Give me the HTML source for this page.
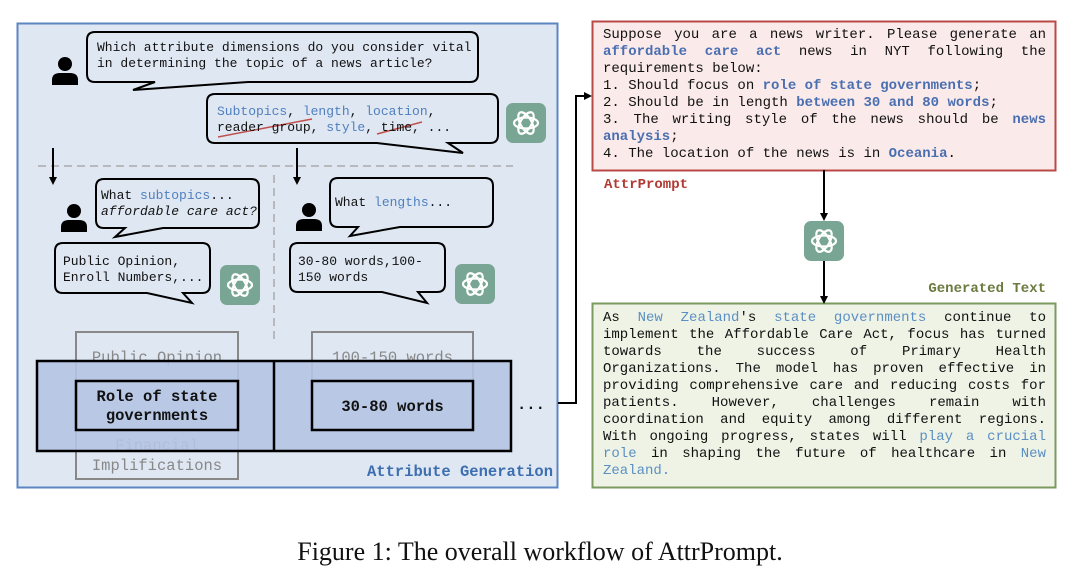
<!DOCTYPE html>
<html><head><meta charset="utf-8"><style>
body{margin:0;background:#fff;width:1080px;height:582px;position:relative;overflow:hidden}
.t{position:absolute;font-family:"Liberation Mono",monospace;white-space:pre;color:#111}
.s{font-size:13px;line-height:16px}
.b{color:#4f7fbf}
.g{color:#888}
.j{position:absolute;font-family:"Liberation Mono",monospace;font-size:14px;line-height:17px;color:#111;width:443px}
.j div{text-align:justify;text-align-last:justify;white-space:normal;height:17px}
.j div.n{text-align-last:left}
.hb{color:#4a6fb0;font-weight:bold}
.hg{color:#5b8fc4}
.m{font-size:15.5px}
</style></head><body>
<svg width="1080" height="582" style="position:absolute;left:0;top:0">
<defs>
<g id="gpt"><rect x="0" y="0" width="40" height="40" rx="7" fill="#79a594"/>
<g fill="none" stroke="#fff" stroke-width="2.2">
<ellipse cx="20" cy="20" rx="12" ry="5.5"/>
<ellipse cx="20" cy="20" rx="12" ry="5.5" transform="rotate(60 20 20)"/>
<ellipse cx="20" cy="20" rx="12" ry="5.5" transform="rotate(120 20 20)"/>
</g></g>
<g id="per"><circle cx="13" cy="7" r="7" fill="#000"/><path d="M0,28 V23 Q0,16 8,16 H18 Q26,16 26,23 V28 Z" fill="#000"/></g>
<marker id="ah" markerWidth="8" markerHeight="8" refX="6" refY="4" orient="auto" markerUnits="userSpaceOnUse"><path d="M0,0 L8,4 L0,8 Z" fill="#000"/></marker>
</defs>
<rect x="17.5" y="23.5" width="540" height="464" fill="#dfe7f2" stroke="#5b86c0" stroke-width="2"/>
<g fill="none" stroke="#000" stroke-width="2">
<path d="M95,32 H470 Q478,32 478,40 V74 Q478,82 470,82 H248 L133,90 L155,82 H95 Q87,82 87,74 V40 Q87,32 95,32 Z"/>
<path d="M215,94 H490 Q498,94 498,102 V135 Q498,143 490,143 H448 L463,153 L377,143 H215 Q207,143 207,135 V102 Q207,94 215,94 Z"/>
<path d="M104,179 H251 Q259,179 259,187 V220 Q259,228 251,228 H163 L115,237 L125,228 H104 Q96,228 96,220 V187 Q96,179 104,179 Z"/>
<path d="M63,243 H202 Q210,243 210,251 V285 Q210,293 202,293 H183 L192,303 L147,293 H63 Q55,293 55,285 V251 Q55,243 63,243 Z"/>
<path d="M338,178 H485 Q493,178 493,186 V219 Q493,227 485,227 H400 L350,236 L358,227 H338 Q330,227 330,219 V186 Q330,178 338,178 Z"/>
<path d="M298,243 H437 Q445,243 445,251 V284 Q445,292 437,292 H418 L427,303 L382,292 H298 Q290,292 290,284 V251 Q290,243 298,243 Z"/>
</g>
<use href="#per" x="52" y="57"/>
<use href="#per" x="61" y="204"/>
<use href="#per" x="296" y="203"/>
<use href="#gpt" x="506" y="103"/>
<use href="#gpt" x="220" y="265"/>
<use href="#gpt" x="455" y="264"/>
<use href="#gpt" x="804" y="221"/>
<line x1="38" y1="166" x2="513" y2="166" stroke="#aaa" stroke-width="1.5" stroke-dasharray="8,5"/>
<line x1="274" y1="175" x2="274" y2="343" stroke="#aaa" stroke-width="1.5" stroke-dasharray="8,5"/>
<line x1="53" y1="148" x2="53" y2="183" stroke="#000" stroke-width="2" marker-end="url(#ah)"/>
<line x1="297" y1="148" x2="297" y2="183" stroke="#000" stroke-width="2" marker-end="url(#ah)"/>
<rect x="76" y="332" width="162" height="147" fill="none" stroke="#888" stroke-width="2"/>
<rect x="312" y="332" width="161" height="98" fill="none" stroke="#888" stroke-width="2"/>
</svg>
<div class="t g m" style="left:76px;top:349px;width:162px;text-align:center">Public Opinion</div>
<div class="t g m" style="left:312px;top:349px;width:161px;text-align:center">100-150 words</div>
<div class="t g m" style="left:76px;top:437px;width:162px;text-align:center">Financial</div>
<svg width="1080" height="582" style="position:absolute;left:0;top:0">
<rect x="37" y="361" width="474" height="90" fill="#b5c4e3" fill-opacity="0.9" stroke="#000" stroke-width="2.5"/>
<line x1="274" y1="361" x2="274" y2="451" stroke="#000" stroke-width="2.5"/>
<rect x="76" y="381" width="162" height="49" fill="none" stroke="#000" stroke-width="2.5"/>
<rect x="312" y="381" width="161" height="49" fill="none" stroke="#000" stroke-width="2.5"/>
<polyline points="558,403 576,403 576,96 590,96" fill="none" stroke="#000" stroke-width="2" marker-end="url(#ah)"/>
<line x1="218" y1="137" x2="312" y2="119" stroke="#c0504d" stroke-width="1.5"/>
<line x1="377" y1="134" x2="422" y2="122" stroke="#c0504d" stroke-width="1.5"/>
<rect x="592.5" y="21.5" width="463" height="149" fill="#fbeaea" stroke="#b84a45" stroke-width="2"/>
<rect x="592.5" y="303.5" width="463" height="184" fill="#eef3e6" stroke="#7a9a5e" stroke-width="2"/>
<line x1="824" y1="170" x2="824" y2="219" stroke="#000" stroke-width="2" marker-end="url(#ah)"/>
<line x1="824" y1="261" x2="824" y2="302" stroke="#000" stroke-width="2" marker-end="url(#ah)"/>
</svg>
<div class="t g m" style="left:76px;top:457px;width:162px;text-align:center">Implifications</div>
<div class="t m" style="left:76px;top:388px;width:162px;text-align:center;line-height:19px;font-weight:bold">Role of state
governments</div>
<div class="t m" style="left:312px;top:398px;width:161px;text-align:center;font-weight:bold">30-80 words</div>
<div class="t m" style="left:517px;top:396px;font-weight:bold">...</div>
<div class="t m" style="left:353px;top:463px;width:200px;text-align:right;font-weight:bold;color:#3d6fb0">Attribute Generation</div>
<div class="t s" style="left:97px;top:40px">Which attribute dimensions do you consider vital
in determining the topic of a news article?</div>
<div class="t s" style="left:217px;top:104px"><span class="b">Subtopics</span>, <span class="b">length</span>, <span class="b">location</span>,
reader group, <span class="b">style</span>, time, ...</div>
<div class="t s" style="left:101px;top:188px">What <span class="b">subtopics</span>...
<i>affordable care act?</i></div>
<div class="t s" style="left:63px;top:254px">Public Opinion,
Enroll Numbers,...</div>
<div class="t s" style="left:335px;top:195px">What <span class="b">lengths</span>...</div>
<div class="t s" style="left:298px;top:254px">30-80 words,100-
150 words</div>
<div class="j" style="left:603px;top:27px">
<div>Suppose you are a news writer. Please generate an</div>
<div><span class="hb">affordable care act</span> news in NYT following the</div>
<div class="n">requirements below:</div>
<div class="n">1. Should focus on <span class="hb">role of state governments</span>;</div>
<div class="n">2. Should be in length <span class="hb">between 30 and 80 words</span>;</div>
<div>3. The writing style of the news should be <span class="hb">news</span></div>
<div class="n"><span class="hb">analysis</span>;</div>
<div class="n">4. The location of the news is in <span class="hb">Oceania</span>.</div>
</div>
<div class="t" style="left:604px;top:177px;font-size:14px;font-weight:bold;color:#b03a33">AttrPrompt</div>
<div class="t" style="left:846px;top:281px;width:200px;text-align:right;font-size:14px;font-weight:bold;color:#6b7a3f">Generated Text</div>
<div class="j" style="left:603px;top:310px">
<div>As <span class="hg">New Zealand</span>'s <span class="hg">state governments</span> continue to</div>
<div>implement the Affordable Care Act, focus has turned</div>
<div>towards the success of Primary Health</div>
<div>Organizations. The model has proven effective in</div>
<div>providing comprehensive care and reducing costs for</div>
<div>patients. However, challenges remain with</div>
<div>coordination and equity among different regions.</div>
<div>With ongoing progress, states will <span class="hg">play a crucial</span></div>
<div><span class="hg">role</span> in shaping the future of healthcare in <span class="hg">New</span></div>
<div class="n"><span class="hg">Zealand.</span></div>
</div>
<div style="position:absolute;left:0;width:1080px;top:537px;text-align:center;font-family:'Liberation Serif',serif;font-size:26px;color:#111">Figure 1: The overall workflow of AttrPrompt.</div>
</body></html>
